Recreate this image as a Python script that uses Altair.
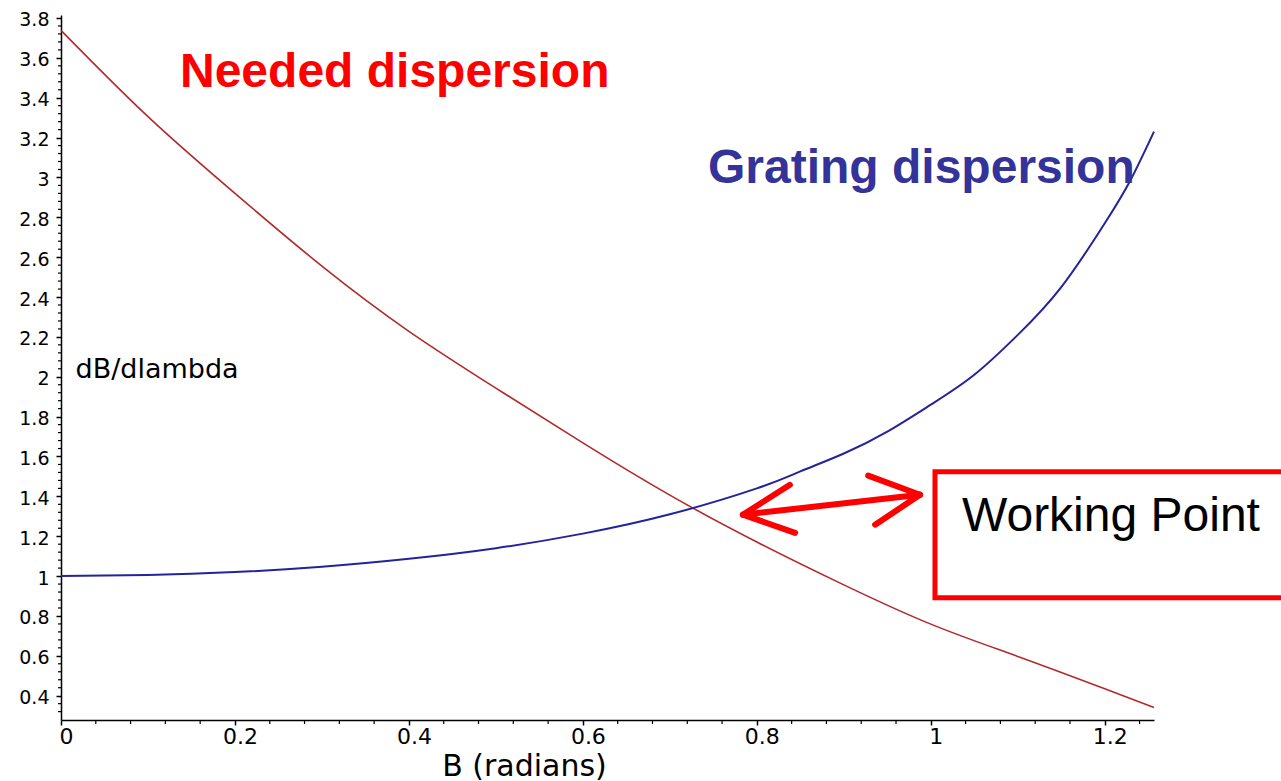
import altair as alt
import pandas as pd

# ---- data ----
B_needed = [0.0, 0.1, 0.2, 0.3, 0.4, 0.5, 0.6, 0.7, 0.8, 0.9, 1.0, 1.1, 1.2, 1.2566]
needed = [3.738, 3.305, 2.92, 2.555, 2.228, 1.943, 1.668, 1.406, 1.171, 0.956,
          0.759, 0.597, 0.435, 0.341]

B_grating = [0.0, 0.1, 0.2, 0.3, 0.4, 0.5, 0.6, 0.7, 0.8, 0.85, 0.9, 0.95, 1.0,
             1.05, 1.1, 1.15, 1.2, 1.23, 1.2566]
grating = [1.0, 1.005, 1.02, 1.047, 1.087, 1.14, 1.213, 1.31, 1.44, 1.525, 1.615, 1.725,
           1.86, 2.01, 2.21, 2.45, 2.77, 2.99, 3.23]

x_ticks = [0, 0.2, 0.4, 0.6, 0.8, 1.0, 1.2]
y_ticks = [0.4, 0.6, 0.8, 1.0, 1.2, 1.4, 1.6, 1.8, 2.0, 2.2, 2.4, 2.6, 2.8, 3.0,
           3.2, 3.4, 3.6, 3.8]
x_minor = [0.04, 0.08, 0.12, 0.16, 0.24, 0.28, 0.32, 0.36, 0.44, 0.48, 0.52, 0.56,
           0.64, 0.68, 0.72, 0.76, 0.84, 0.88, 0.92, 0.96, 1.04, 1.08, 1.12, 1.16, 1.24]
y_minor = [0.32, 0.36, 0.44, 0.48, 0.52, 0.56, 0.64, 0.68, 0.72, 0.76, 0.84, 0.88, 0.92,
           0.96, 1.04, 1.08, 1.12, 1.16, 1.24, 1.28, 1.32, 1.36, 1.44, 1.48, 1.52, 1.56,
           1.64, 1.68, 1.72, 1.76, 1.84, 1.88, 1.92, 1.96, 2.04, 2.08, 2.12, 2.16, 2.24,
           2.28, 2.32, 2.36, 2.44, 2.48, 2.52, 2.56, 2.64, 2.68, 2.72, 2.76, 2.84, 2.88,
           2.92, 2.96, 3.04, 3.08, 3.12, 3.16, 3.24, 3.28, 3.32, 3.36, 3.44, 3.48, 3.52,
           3.56, 3.64, 3.68, 3.72, 3.76]

# arrow (double headed) and box, in data units
arrow_x = [0.784, 0.784, 0.784, 0.9876, 0.9876]
arrow_y = [1.308, 1.308, 1.308, 1.408, 1.408]
arrow_x2 = [0.9876, 0.838, 0.844, 0.928, 0.936]
arrow_y2 = [1.408, 1.458, 1.217, 1.504, 1.258]

box = {"x": [1.0048], "x2": [1.413], "y": [1.524], "y2": [0.891]}

W, H = 1093, 705
xs = alt.Scale(domain=[0, 1.2566], nice=False, zero=False)
ys = alt.Scale(domain=[0.278, 3.815], nice=False, zero=False)

FONT = "DejaVu Sans"

x_axis = alt.Axis(values=x_ticks, format="~g", grid=False, labelFont=FONT,
                  labelFontSize=22, labelColor="black", tickColor="black",
                  tickSize=5, tickWidth=1.5, domainColor="black", domainWidth=1.5,
                  labelPadding=1, labelOffset=5, labelFlush=False,
                  labelOverlap=False, labelBaseline="top",
                  title="B (radians)", titleFont=FONT, titleFontSize=30,
                  titleFontWeight="normal", titleColor="black", titleX=463,
                  titleY=55, titleAlign="center", titleBaseline="alphabetic")
y_axis = alt.Axis(values=y_ticks, format="~g", grid=False, labelFont=FONT,
                  labelFontSize=19, labelColor="black", tickColor="black",
                  tickSize=5, tickWidth=1.5, domainColor="black", domainWidth=1.5,
                  labelPadding=7, labelOffset=2, labelFlush=False,
                  labelOverlap=False,
                  title="dB/dlambda", titleFont=FONT, titleFontSize=27,
                  titleFontWeight="normal", titleColor="black", titleAngle=0,
                  titleX=14, titleY=362, titleAlign="left",
                  titleBaseline="alphabetic")


def X(field):
    return alt.X(field, scale=xs, axis=x_axis)


def Y(field):
    return alt.Y(field, scale=ys, axis=y_axis)


df_needed = pd.DataFrame({"B": B_needed, "v": needed})
df_grating = pd.DataFrame({"B": B_grating, "v": grating})

needed_line = alt.Chart(df_needed).mark_line(
    color="#b22a2a", strokeWidth=1.6, interpolate="natural"
).encode(x=X("B:Q"), y=Y("v:Q"))

grating_line = alt.Chart(df_grating).mark_line(
    color="#23239c", strokeWidth=2, interpolate="natural"
).encode(x=X("B:Q"), y=Y("v:Q"))

xminor = alt.Chart(pd.DataFrame({"t": x_minor})).mark_rule(
    color="black", strokeWidth=1.2
).encode(x=X("t:Q"), y=alt.value(H), y2=alt.value(H + 4))

yminor = alt.Chart(pd.DataFrame({"t": y_minor})).mark_rule(
    color="black", strokeWidth=1.2
).encode(y=Y("t:Q"), x=alt.value(-3), x2=alt.value(0))

arrow = alt.Chart(pd.DataFrame({"x": arrow_x, "y": arrow_y,
                                "x2": arrow_x2, "y2": arrow_y2})).mark_rule(
    color="#ff0000", strokeWidth=6, strokeCap="round"
).encode(x=X("x:Q"), y=Y("y:Q"), x2="x2:Q", y2="y2:Q")

rect = alt.Chart(pd.DataFrame(box)).mark_rect(
    fill="white", fillOpacity=0, stroke="#ff0000", strokeWidth=5
).encode(x=X("x:Q"), x2="x2:Q", y=Y("y:Q"), y2="y2:Q")


def label(txt, px, py, color, size, weight):
    return alt.Chart(pd.DataFrame({"t": [txt]})).mark_text(
        align="left", baseline="alphabetic", font="Liberation Sans",
        fontSize=size, fontWeight=weight, color=color
    ).encode(text="t:N", x=alt.value(px), y=alt.value(py))


t_needed = label("Needed dispersion", 119, 72, "#ff0000", 48, "bold")
t_grating = label("Grating dispersion", 647, 168, "#333399", 48, "bold")
t_work = label("Working Point", 901, 516, "black", 48, "normal")

chart = alt.layer(
    needed_line, grating_line, xminor, yminor, arrow, rect,
    t_needed, t_grating, t_work
).properties(
    width=W, height=H,
    autosize=alt.AutoSizeParams(type="none"),
    padding={"left": 61, "top": 15, "right": 127, "bottom": 61},
    background="white"
).configure_view(stroke=None)

chart.save("out.html", embed_options={"renderer": "svg", "actions": False})
